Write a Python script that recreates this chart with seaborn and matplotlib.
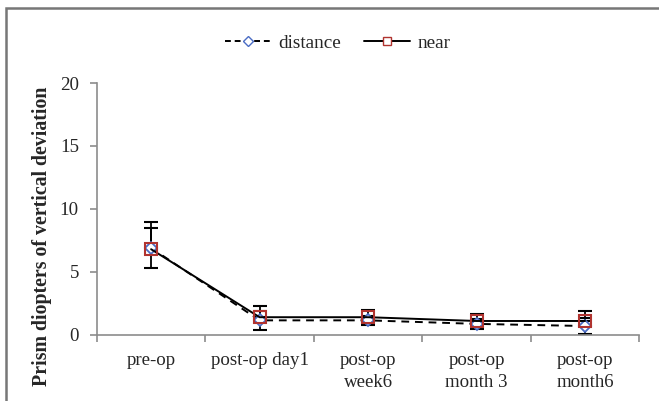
import numpy as np
import pandas as pd
import seaborn as sns
import matplotlib.pyplot as plt
from matplotlib.patches import Rectangle
from matplotlib.lines import Line2D

# Data
stages = ["pre-op", "post-op day1", "post-op\nweek6", "post-op\nmonth 3", "post-op\nmonth6"]
distance = [6.9, 1.15, 1.15, 0.87, 0.7]
distance_err = [1.6, 0.75, 0.35, 0.4, 0.6]
near = [6.8, 1.4, 1.4, 1.1, 1.1]
near_err_up = [2.2, 0.9, 0.6, 0.55, 0.8]

sns.set_style("white")
plt.rcParams['font.family'] = ['Liberation Serif', 'DejaVu Serif']

fig = plt.figure(figsize=(6.59, 4.01), dpi=100)
ax = fig.add_axes([0.147, 0.165, 0.823, 0.628])

df = pd.DataFrame({
    "stage": stages * 2,
    "value": distance + near,
    "series": ["distance"] * 5 + ["near"] * 5,
})

blue = "#4a6cc4"
red = "#b0332f"

sns.lineplot(data=df[df.series == "distance"], x="stage", y="value", ax=ax,
             color="black", linestyle=(0, (4, 3)), lw=1.4, sort=False,
             marker="D", markersize=6, markerfacecolor="white",
             markeredgecolor=blue, markeredgewidth=1.3, zorder=3)
sns.lineplot(data=df[df.series == "near"], x="stage", y="value", ax=ax,
             color="black", lw=1.4, sort=False,
             marker="s", markersize=8, markerfacecolor="none",
             markeredgecolor=red, markeredgewidth=1.5, zorder=4)

# error bars
ax.errorbar(stages, distance, yerr=distance_err, fmt="none", ecolor="black",
            elinewidth=1.3, capsize=5, capthick=1.5, zorder=2)
ax.errorbar(stages, near, yerr=[np.zeros(5), near_err_up], fmt="none",
            ecolor="black", elinewidth=1.3, capsize=5, capthick=1.5, zorder=2)

ax.set_xlim(-0.5, 4.5)
ax.set_ylim(0, 20)
ax.set_yticks([0, 5, 10, 15, 20])
ax.set_xlabel("")
ax.set_ylabel("Prism diopters of vertical deviation", fontsize=14.3,
              fontweight="bold")
ax.yaxis.set_label_coords(-0.082, 0.39)

for s in ["top", "right"]:
    ax.spines[s].set_visible(False)
for s in ["left", "bottom"]:
    ax.spines[s].set_color("#8c8c8c")
    ax.spines[s].set_linewidth(1.2)

ax.set_xticks(np.arange(-0.5, 5, 1), minor=True)
ax.tick_params(axis="x", which="major", length=0, pad=12, labelsize=13.6)
ax.tick_params(axis="x", which="minor", length=5, color="#8c8c8c", width=1.2,
               direction="out")
ax.tick_params(axis="y", length=5, color="#8c8c8c", width=1.2, direction="out",
               labelsize=13.6, pad=8)
for lab in ax.get_xticklabels():
    lab.set_linespacing(1.45)
ax.xaxis.set_ticks_position("bottom")
ax.yaxis.set_ticks_position("left")

handles = [
    Line2D([], [], color="black", linestyle=(0, (3, 2)), lw=1.4, marker="D",
           markersize=5, markerfacecolor="white", markeredgecolor=blue),
    Line2D([], [], color="black", lw=1.4, marker="s", markersize=6,
           markerfacecolor="white", markeredgecolor=red),
]
fig.legend(handles, ["distance", "near"], loc="center",
           bbox_to_anchor=(338 / 659, 1 - 43 / 401), ncol=2, frameon=False,
           fontsize=13.8, handlelength=2.4, handletextpad=0.4, columnspacing=1.2)

# outer frame around the chart
fig.patches.append(Rectangle((6 / 659, -0.1), 1.2, 1 - 8 / 401 + 0.1,
                             transform=fig.transFigure, fill=False,
                             edgecolor="#777777", lw=1.8))

fig.savefig("out.png", dpi=100)
